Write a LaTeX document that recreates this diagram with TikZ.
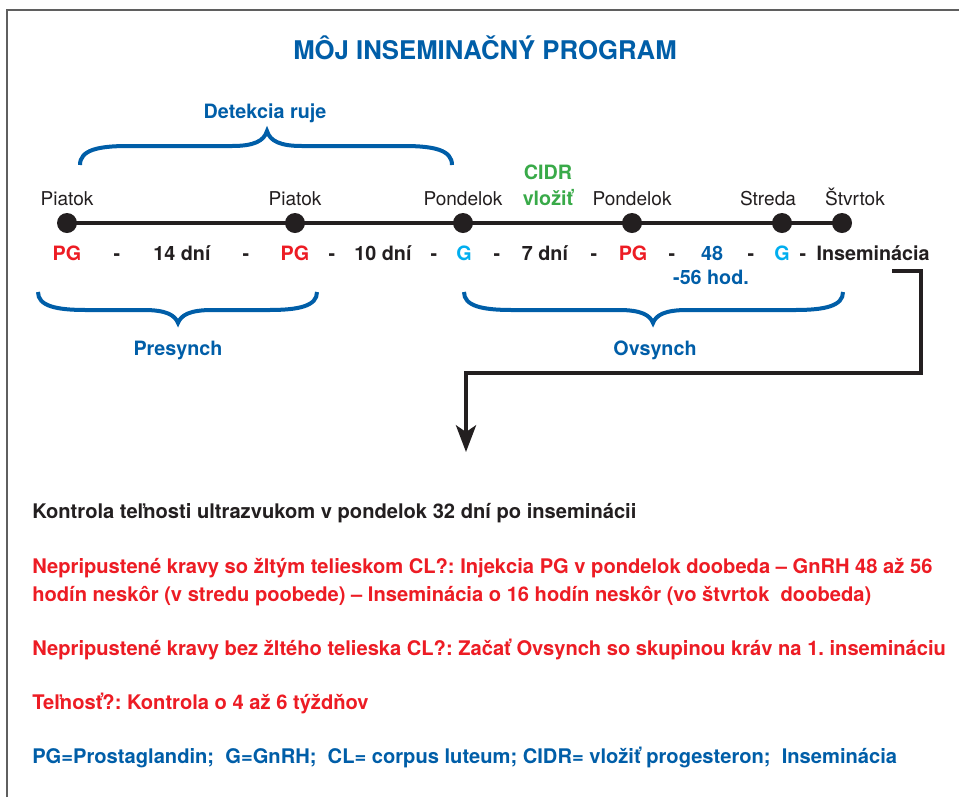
\documentclass[tikz,border=0pt]{standalone}
\usepackage{fontspec}
\setmainfont{TeX Gyre Heros}
\usetikzlibrary{arrows.meta}
\definecolor{myblue}{RGB}{0,94,168}
\definecolor{myred}{RGB}{237,28,36}
\definecolor{mycyan}{RGB}{0,174,239}
\definecolor{mygreen}{RGB}{57,170,73}
\definecolor{mydark}{RGB}{35,31,32}
\definecolor{framegray}{RGB}{95,95,95}
\frenchspacing
\begin{document}
\begin{tikzpicture}[x=0.75pt,y=-0.75pt,
  day/.style={font=\fontsize{14.3}{16}\selectfont, text=mydark, anchor=base, inner sep=0pt},
  row/.style={font=\bfseries\fontsize{14.8}{17}\selectfont, anchor=base, inner sep=0pt},
  note/.style={font=\bfseries\fontsize{15.1}{17}\selectfont, anchor=base west, inner sep=0pt},
  bracelbl/.style={font=\bfseries\fontsize{14.8}{17}\selectfont, text=myblue, anchor=base, inner sep=0pt},
  bracepath/.style={draw=myblue, line width=3pt},
  dotnode/.style={circle, fill=mydark, minimum size=15pt, inner sep=0pt},
  conn/.style={draw=mydark, line width=3pt, line join=miter},
  framestyle/.style={draw=framegray, line width=1.6pt}]
\useasboundingbox (0,0) rectangle (959,797);
\fill[white] (0,0) rectangle (959,797);
% frame
\draw[framestyle] (7,797) -- (7,10) -- (959,10);

% title
\node[font=\bfseries\fontsize{19.3}{22}\selectfont, text=myblue, anchor=base, inner sep=0pt] (title) at (485,59) {MÔJ INSEMINAČNÝ PROGRAM};

% top brace
\node[bracelbl] (detek) at (265,118) {Detekcia ruje};
\draw[bracepath] (80,165) .. controls (80,150) and (98,146) .. (128,146) -- (232,146)
  .. controls (254,146) and (264,141) .. (267,131)
  .. controls (270,141) and (280,146) .. (302,146) -- (404,146)
  .. controls (434,146) and (452,150) .. (452,165);

% timeline dots
\node[dotnode] (d1) at (67,223) {};
\node[dotnode] (d2) at (295,223) {};
\node[dotnode] (d3) at (463,223) {};
\node[dotnode] (d4) at (632,223) {};
\node[dotnode] (d5) at (782,223) {};
\node[dotnode] (d6) at (842,223) {};
\draw[mydark, line width=3pt] (d1.center) -- (d6.center);

% day labels
\node[day] (l1) at (67,205) {Piatok};
\node[day] (l2) at (295,205) {Piatok};
\node[day] (l3) at (463,205) {Pondelok};
\node[day] (l4) at (632,205) {Pondelok};
\node[day] (l5) at (768,205) {Streda};
\node[day] (l6) at (855,205) {Štvrtok};
\node[row, text=mygreen] (cidr) at (548,179) {CIDR};
\node[row, text=mygreen] (vloz) at (548,205) {vložiť};

% row below
\node[row, text=myred] (r1) at (67,260) {PG};
\node[row, text=mydark] (r2) at (117,260) {-};
\node[row, text=mydark] (r3) at (182,260) {14 dní};
\node[row, text=mydark] (r4) at (246,260) {-};
\node[row, text=myred] (r5) at (295,260) {PG};
\node[row, text=mydark] (r6) at (332,260) {-};
\node[row, text=mydark] (r7) at (383,260) {10 dní};
\node[row, text=mydark] (r8) at (434,260) {-};
\node[row, text=mycyan] (r9) at (464,260) {G};
\node[row, text=mydark] (r10) at (497,260) {-};
\node[row, text=mydark] (r11) at (545,260) {7 dní};
\node[row, text=mydark] (r12) at (594,260) {-};
\node[row, text=myred] (r13) at (633,260) {PG};
\node[row, text=mydark] (r14) at (672,260) {-};
\node[row, text=myblue] (r15) at (712,260) {48};
\node[row, text=mydark] (r16) at (751,260) {-};
\node[row, text=mycyan] (r17) at (782,260) {G};
\node[row, text=mydark] (r18) at (803,260) {-};
\node[row, text=mydark] (ins) at (873,260) {Inseminácia};
\node[row, text=myblue] (hod) at (711,284) {-56 hod.};

% lower braces
\draw[bracepath] (38,292) .. controls (38,306) and (56,310) .. (86,310) -- (144,310)
  .. controls (166,310) and (175,315) .. (178,323)
  .. controls (181,315) and (190,310) .. (212,310) -- (269,310)
  .. controls (299,310) and (317,306) .. (317,292);
\node[bracelbl] (pres) at (178,355) {Presynch};
\draw[bracepath] (464,292) .. controls (464,306) and (482,310) .. (512,310) -- (619,310)
  .. controls (641,310) and (650,315) .. (653,323)
  .. controls (656,315) and (665,310) .. (687,310) -- (795,310)
  .. controls (825,310) and (843,306) .. (843,292);
\node[bracelbl] (ovs) at (655,355) {Ovsynch};

% connector
\coordinate (cs) at (892,271);
\coordinate (ce) at (466,452);
\draw[conn, -{Stealth[length=20pt,width=15pt,inset=5pt]}] (cs) -- (921,271) -- (921,373) -- (466,373) -- (ce);

% notes
\node[note, text=mydark] (n1) at (32,518) {Kontrola teľnosti ultrazvukom v pondelok 32 dní po inseminácii};
\node[note, text=myred] (n2) at (32,573) {Nepripustené kravy so žltým telieskom CL?: Injekcia PG v pondelok doobeda – GnRH 48 až 56};
\node[note, text=myred] (n3) at (32,601) {hodín neskôr (v stredu poobede) – Inseminácia o 16 hodín neskôr (vo štvrtok\ \ doobeda)};
\node[note, text=myred] (n4) at (32,655) {Nepripustené kravy bez žltého telieska CL?: Začať Ovsynch so skupinou kráv na 1. insemináciu};
\node[note, text=myred] (n5) at (32,709) {Teľnosť?: Kontrola o 4 až 6 týždňov};
\node[note, text=myblue] (n6) at (32,763) {PG=Prostaglandin;\ \ G=GnRH;\ \ CL= corpus luteum; CIDR= vložiť progesteron;\ \ Inseminácia};
\end{tikzpicture}
\end{document}
